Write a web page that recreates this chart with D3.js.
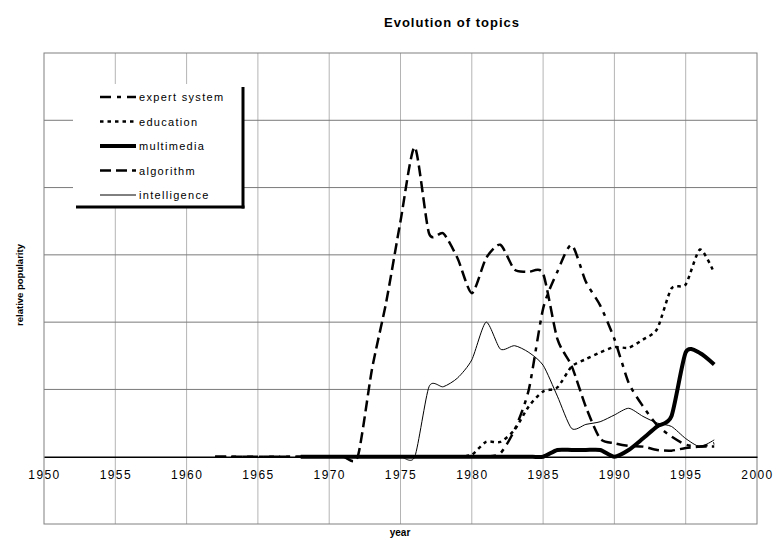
<!DOCTYPE html>
<html>
<head>
<meta charset="utf-8">
<script src="https://cdn.jsdelivr.net/npm/d3@7"></script>
<style>
  body { margin: 0; background: #fff; }
  text { font-family: "Liberation Sans", Arial, sans-serif; fill: #000; }
</style>
</head>
<body>
<svg id="chart" width="778" height="540"></svg>
<script>
// --- Data ---
const years = d3.range(1962, 1998);
const xTicks = [1950, 1955, 1960, 1965, 1970, 1975, 1980, 1985, 1990, 1995, 2000];
const yGrid = [1, 2, 3, 4, 5];

const expertSystem = [0, 0, 0, 0, 0, 0, 0, 0, 0, 0, 0, 0, 0, 0, 0, 0, 0, 0, 0, 0,
  0.05, 0.4, 1.0, 2.2, 2.75, 3.15, 2.6, 2.25, 1.75, 1.1, 0.75, 0.47, 0.3, 0.18, 0.15, 0.2];
const education = [null, null, null, null, null, null, 0, 0, 0, 0, 0, 0, 0, 0, 0, 0, 0, 0,
  0.03, 0.22, 0.22, 0.4, 0.75, 0.97, 1.03, 1.34, 1.45, 1.55, 1.63, 1.62, 1.74, 1.9, 2.5, 2.56, 3.08, 2.73];
const multimedia = [null, null, null, null, null, null, 0, 0, 0, 0, 0, 0, 0, 0, 0, 0, 0, 0,
  0, 0, 0, 0, 0, 0, 0.1, 0.1, 0.1, 0.1, 0, 0.1, 0.27, 0.45, 0.6, 1.55, 1.54, 1.37];
const algorithm = [0, 0, 0, 0, 0, 0, 0, 0, 0, 0, 0,
  1.3, 2.3, 3.5, 4.6, 3.32, 3.32, 2.95, 2.43, 2.95, 3.15, 2.78, 2.75, 2.72, 1.75, 1.35,
  0.74, 0.27, 0.2, 0.16, 0.15, 0.1, 0.09, 0.13, 0.15, 0.15];
const intelligence = [null, null, null, null, null, null, 0, 0, 0, 0, 0, 0, 0, 0, 0,
  1.04, 1.04, 1.17, 1.44, 2.0, 1.6, 1.65, 1.55, 1.36, 0.9, 0.42, 0.48, 0.52, 0.62, 0.72,
  0.6, 0.5, 0.45, 0.27, 0.15, 0.25];

const seriesNames = ["expert system", "education", "multimedia", "algorithm", "intelligence"];
const seriesValues = [expertSystem, education, multimedia, algorithm, intelligence];
const seriesStyle = [
  { width: 2.5, dash: "11,6,4,6" },
  { width: 2.5, dash: "3.5,4" },
  { width: 4, dash: null },
  { width: 2.5, dash: "11,5" },
  { width: 1, dash: null }
];

// --- Layout ---
const svg = d3.select("#chart");
const plot = { left: 44, right: 757, top: 53, bottom: 524 };

const x = d3.scaleLinear().domain([1950, 2000]).range([plot.left, plot.right]);
const y = d3.scaleLinear().domain([-1, 6]).range([plot.bottom, plot.top]);

// Title
svg.append("text")
  .attr("x", 452).attr("y", 27)
  .attr("text-anchor", "middle")
  .style("font-size", "13px").style("font-weight", "bold")
  .style("letter-spacing", "1px")
  .text("Evolution of topics");

// Vertical gridlines
svg.append("g").selectAll("line")
  .data(xTicks.slice(1, -1))
  .enter().append("line")
  .attr("x1", d => x(d)).attr("x2", d => x(d))
  .attr("y1", plot.top).attr("y2", plot.bottom)
  .attr("stroke", "#b4b4b4").attr("stroke-width", 1);

// Horizontal gridlines
svg.append("g").selectAll("line")
  .data(yGrid)
  .enter().append("line")
  .attr("x1", plot.left).attr("x2", plot.right)
  .attr("y1", d => y(d)).attr("y2", d => y(d))
  .attr("stroke", "#7a7a7a").attr("stroke-width", 1);

// Frame
svg.append("rect")
  .attr("x", plot.left).attr("y", plot.top)
  .attr("width", plot.right - plot.left).attr("height", plot.bottom - plot.top)
  .attr("fill", "none").attr("stroke", "#808080").attr("stroke-width", 1);

// X axis at zero
const xAxis = svg.append("g")
  .attr("transform", `translate(0,${y(0)})`)
  .call(d3.axisBottom(x).tickValues(xTicks).tickFormat(d3.format("d")).tickSize(0).tickPadding(14));
xAxis.select(".domain").attr("stroke", "#000").attr("stroke-width", 1.5);
xAxis.selectAll("text")
  .style("font-family", "'Liberation Sans', Arial, sans-serif")
  .style("font-size", "12px")
  .style("letter-spacing", "1.4px");

// Axis titles
svg.append("text")
  .attr("x", 400).attr("y", 536)
  .attr("text-anchor", "middle")
  .style("font-size", "10px").style("font-weight", "bold")
  .text("year");

svg.append("text")
  .attr("transform", "rotate(-90)")
  .attr("x", -285).attr("y", 23)
  .attr("text-anchor", "middle")
  .style("font-size", "9.5px").style("font-weight", "bold")
  .text("relative popularity");

// Lines (smoothed like the original)
const line = d3.line()
  .defined(d => d.v != null)
  .x(d => x(d.year))
  .y(d => y(d.v))
  .curve(d3.curveCardinal.tension(0.3));

seriesValues.forEach((vals, i) => {
  const pts = years.map((yr, j) => ({ year: yr, v: vals[j] }));
  svg.append("path")
    .datum(pts)
    .attr("d", line)
    .attr("fill", "none")
    .attr("stroke", "#000")
    .attr("stroke-width", seriesStyle[i].width)
    .attr("stroke-dasharray", seriesStyle[i].dash);
});

// Legend
const legend = svg.append("g");
legend.append("rect")
  .attr("x", 73).attr("y", 84).attr("width", 170).attr("height", 123)
  .attr("fill", "#fff");
legend.append("line")
  .attr("x1", 243).attr("x2", 243).attr("y1", 87).attr("y2", 208.5)
  .attr("stroke", "#000").attr("stroke-width", 3);
legend.append("line")
  .attr("x1", 76).attr("x2", 244.5).attr("y1", 207).attr("y2", 207)
  .attr("stroke", "#000").attr("stroke-width", 3);

const legendY = d3.scalePoint().domain(seriesNames).range([97, 195]);
seriesNames.forEach((name, i) => {
  const ly = legendY(name);
  legend.append("line")
    .attr("x1", 100).attr("x2", 136).attr("y1", ly).attr("y2", ly)
    .attr("stroke", "#000")
    .attr("stroke-width", seriesStyle[i].width)
    .attr("stroke-dasharray", seriesStyle[i].dash);
  legend.append("text")
    .attr("x", 139).attr("y", ly + 4)
    .style("font-size", "11px")
    .style("letter-spacing", "1.3px")
    .text(name);
});
</script>
</body>
</html>
